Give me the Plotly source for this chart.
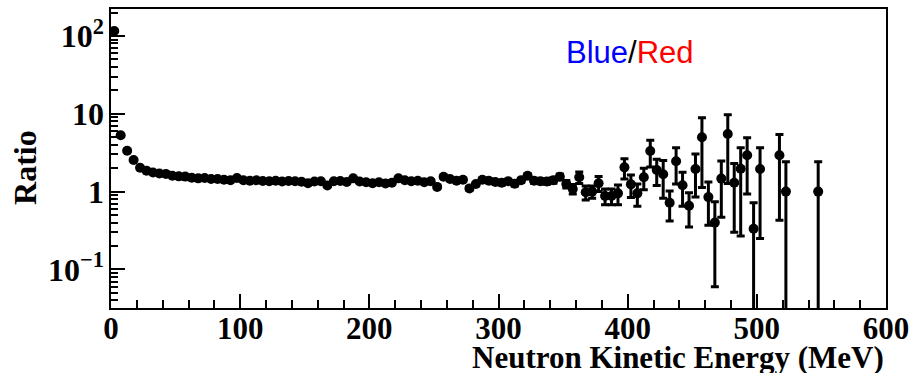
import plotly.graph_objects as go

# Bin centres (MeV)
energy = [2.5, 7.5, 12.5, 17.5, 22.5, 27.5, 32.5, 37.5, 42.5, 47.5,
          52.5, 57.5, 62.5, 67.5, 72.5, 77.5, 82.5, 87.5, 92.5, 97.5,
          102.5, 107.5, 112.5, 117.5, 122.5, 127.5, 132.5, 137.5, 142.5, 147.5,
          152.5, 157.5, 162.5, 167.5, 172.5, 177.5, 182.5, 187.5, 192.5, 197.5,
          202.5, 207.5, 212.5, 217.5, 222.5, 227.5, 232.5, 237.5, 242.5, 247.5,
          252.5, 257.5, 262.5, 267.5, 272.5, 277.5, 282.5, 287.5, 292.5, 297.5,
          302.5, 307.5, 312.5, 317.5, 322.5, 327.5, 332.5, 337.5, 342.5, 347.5,
          352.5, 357.5, 362.5, 367.5, 372.5, 377.5, 382.5, 387.5, 392.5, 397.5,
          402.5, 407.5, 412.5, 417.5, 422.5, 427.5, 432.5, 437.5, 442.5, 447.5,
          452.5, 457.5, 462.5, 467.5, 472.5, 477.5, 482.5, 487.5, 492.5, 497.5,
          502.5, 517.5, 522.5, 547.5]

ratio = [116, 5.3, 3.35, 2.55, 2.03, 1.86, 1.76, 1.71, 1.69, 1.60,
         1.57, 1.56, 1.51, 1.48, 1.50, 1.45, 1.45, 1.42, 1.40, 1.50,
         1.40, 1.38, 1.40, 1.37, 1.36, 1.38, 1.35, 1.37, 1.36, 1.34,
         1.28, 1.35, 1.36, 1.20, 1.36, 1.37, 1.33, 1.48, 1.35, 1.32,
         1.28, 1.32, 1.27, 1.30, 1.48, 1.40, 1.36, 1.38, 1.32, 1.36,
         1.15, 1.55, 1.45, 1.38, 1.42, 1.10, 1.25, 1.42, 1.38, 1.33,
         1.30, 1.36, 1.26, 1.40, 1.60, 1.38, 1.36, 1.35, 1.40, 1.55,
         1.25, 1.08, 1.53, 0.98, 1.00, 1.28, 0.88, 0.88, 0.95, 2.05,
         1.24, 0.95, 1.53, 3.32, 1.90, 1.67, 0.72, 2.45, 1.21, 0.66,
         1.95, 5.0, 0.85, 0.40, 1.47, 5.5, 1.30, 1.97, 2.93, 0.333,
         1.95, 2.93, 1.0, 1.0]

ratio_err = [3.0, 0.15, 0.08, 0.05, 0.04, 0.03, 0.03, 0.03, 0.03, 0.03,
             0.03, 0.03, 0.03, 0.03, 0.03, 0.03, 0.03, 0.03, 0.03, 0.03,
             0.03, 0.03, 0.03, 0.03, 0.03, 0.03, 0.03, 0.03, 0.03, 0.03,
             0.03, 0.03, 0.03, 0.03, 0.03, 0.04, 0.04, 0.04, 0.04, 0.04,
             0.04, 0.04, 0.04, 0.04, 0.05, 0.05, 0.05, 0.05, 0.05, 0.05,
             0.05, 0.06, 0.06, 0.06, 0.06, 0.06, 0.06, 0.07, 0.07, 0.07,
             0.08, 0.08, 0.08, 0.09, 0.10, 0.10, 0.10, 0.11, 0.12, 0.13,
             0.14, 0.15, 0.26, 0.20, 0.18, 0.28, 0.20, 0.20, 0.27, 0.60,
             0.40, 0.30, 0.47, 1.25, 0.70, 0.85, 0.30, 1.20, 0.56, 0.31,
             1.10, 3.87, 0.48, 0.34, 1.00, 4.23, 1.00, 1.70, 2.00, 0.385,
             1.70, 2.50, 1.414, 1.414]

fig = go.Figure()
fig.add_trace(go.Scatter(
    x=energy, y=ratio, mode="markers",
    marker=dict(symbol="circle", size=10, color="black"),
    error_y=dict(type="data", array=ratio_err, symmetric=True,
                 color="black", thickness=3, width=4),
    showlegend=False,
))

serif = "Liberation Serif"
fig.update_layout(
    width=912, height=373,
    margin=dict(l=111, r=26, t=9, b=65, autoexpand=False),
    paper_bgcolor="white", plot_bgcolor="white",
    xaxis=dict(
        range=[0, 600], tickmode="linear", tick0=0, dtick=100, automargin=False,
        ticks="inside", ticklen=14, tickwidth=2, tickcolor="black",
        minor=dict(ticks="inside", dtick=20, ticklen=8, tickwidth=2, tickcolor="black"),
        showline=True, linewidth=2, linecolor="black", mirror=True,
        showgrid=False, zeroline=False, ticklabelstandoff=-8,
        tickfont=dict(family=serif, size=31, color="black", weight="bold"),
    ),
    yaxis=dict(
        type="log", range=[-1.495, 2.346], tickmode="linear", tick0=0, dtick=1,
        exponentformat="power", ticklabelstandoff=0, automargin=False,
        ticks="inside", ticklen=14, tickwidth=2, tickcolor="black",
        minor=dict(ticks="inside", dtick="D1", ticklen=7, tickwidth=2, tickcolor="black"),
        showline=True, linewidth=2, linecolor="black", mirror=True,
        showgrid=False, zeroline=False,
        tickfont=dict(family=serif, size=25.6, color="black", weight="bold"),
    ),
    annotations=[
        dict(text="Neutron Kinetic Energy (MeV)", xref="paper", yref="paper",
             x=1.0, y=-0.165, xanchor="right", yanchor="middle", showarrow=False,
             font=dict(family=serif, size=31, color="black", weight="bold")),
        dict(text="Ratio", xref="paper", yref="paper", textangle=-90,
             x=-0.111, y=0.4716, xanchor="center", yanchor="middle", showarrow=False,
             font=dict(family=serif, size=32, color="black", weight="bold")),
        dict(text="<span style='color:blue'>Blue</span>/<span style='color:red'>Red</span>",
             xref="paper", yref="paper", x=0.6697, y=0.856,
             xanchor="center", yanchor="middle", showarrow=False,
             font=dict(family="Liberation Sans", size=31, color="black")),
    ],
)

fig.write_html("out.html")
